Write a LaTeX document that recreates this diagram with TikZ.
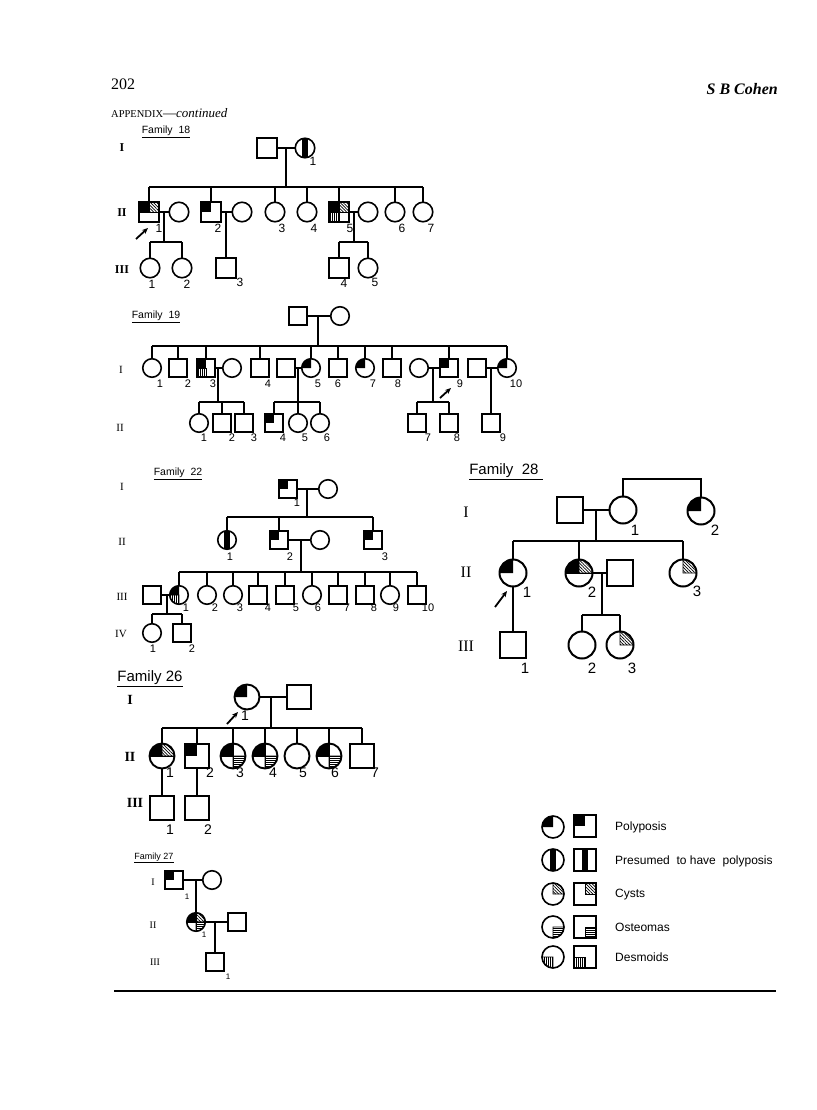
\documentclass[tikz,border=0pt]{standalone}
\usepackage{fontspec}
\setmainfont{Liberation Serif}
\newfontfamily\lsans{Liberation Sans}
\usetikzlibrary{calc,patterns.meta,arrows.meta}
\tikzset{
 sym/.style={draw, line width=1.6pt, outer sep=0pt, inner sep=0pt, fill=white},
 sqA/.style={sym, rectangle, minimum size=20pt},
 ciA/.style={sym, circle, minimum size=19.5pt},
 sqS/.style={sym, rectangle, minimum size=18pt},
 ciS/.style={sym, circle, minimum size=18.5pt},
 sqB/.style={sym, rectangle, minimum size=26pt, line width=2pt},
 ciB/.style={sym, circle, minimum size=27pt, line width=2pt},
 sqC/.style={sym, rectangle, minimum size=24pt, line width=2pt},
 ciC/.style={sym, circle, minimum size=25pt, line width=1.9pt},
 sqL/.style={sym, rectangle, minimum size=22pt, line width=1.6pt},
 ciL/.style={sym, circle, minimum size=22pt, line width=1.6pt},
 ln/.style={line width=1.9pt},
 lnB/.style={line width=2.3pt},
 thinl/.style={line width=0.9pt},
 hatchD/.style={pattern={Lines[angle=-45,distance=2.2pt,line width=0.7pt]}, line width=0.8pt},
 hatchH/.style={pattern={Lines[angle=0,distance=2pt,line width=0.6pt]}, line width=0.8pt},
 hatchV/.style={pattern={Lines[angle=90,distance=2pt,line width=0.6pt]}, line width=0.8pt},
 arr/.style={line width=1.8pt, -{Stealth[length=6pt,width=5pt]}},
 lblA/.style={font=\lsans\fontsize{12}{12}\selectfont, inner sep=0pt},
 lblS/.style={font=\lsans\fontsize{11}{11}\selectfont, inner sep=0pt},
 lblB/.style={font=\lsans\fontsize{15}{15}\selectfont, inner sep=0pt},
 lblC/.style={font=\lsans\fontsize{14}{14}\selectfont, inner sep=0pt},
 lblD/.style={font=\lsans\fontsize{8}{8}\selectfont, inner sep=0pt},
 genA/.style={font=\fontsize{12}{12}\selectfont\bfseries, inner sep=0pt},
 genS/.style={font=\fontsize{11}{11}\selectfont, inner sep=0pt},
 genB/.style={font=\fontsize{16}{16}\selectfont, inner sep=0pt},
 genC/.style={font=\fontsize{14}{14}\selectfont\bfseries, inner sep=0pt},
 genD/.style={font=\fontsize{10}{10}\selectfont, inner sep=0pt},
 famA/.style={font=\lsans\fontsize{10.5}{10.5}\selectfont, inner sep=0pt},
 famB/.style={font=\lsans\fontsize{15}{15}\selectfont, inner sep=0pt},
 famD/.style={font=\lsans\fontsize{9}{9}\selectfont, inner sep=0pt},
 legt/.style={font=\lsans\fontsize{12}{12}\selectfont, inner sep=0pt, anchor=west},
}
\newcommand\SY[4]{\node[#1] (#2) at (#3,-#4) {};}
\newcommand\LB[5]{\node[#1] (#2) at (#3,-#4) {#5};}
\newcommand\cPoly[2]{\fill (#1.center) -- ++(0,#2) arc[start angle=90,end angle=180,radius=#2] -- cycle;}
\newcommand\cCyst[2]{\draw[hatchD] (#1.center) -- ++(#2,0) arc[start angle=0,end angle=90,radius=#2] -- cycle;}
\newcommand\cOst[2]{\draw[hatchH] (#1.center) -- ++(0,-#2) arc[start angle=270,end angle=360,radius=#2] -- cycle;}
\newcommand\cDes[2]{\draw[hatchV] (#1.center) -- ++(-#2,0) arc[start angle=180,end angle=270,radius=#2] -- cycle;}
\newcommand\cPres[2]{\begin{scope}\clip (#1.center) circle[radius=#2];\fill ($(#1.center)+(-0.28*#2,-#2)$) rectangle ($(#1.center)+(0.28*#2,#2)$);\end{scope}}
\newcommand\sPoly[1]{\fill (#1.north west) rectangle (#1.center);}
\newcommand\sCyst[1]{\draw[hatchD] (#1.north) rectangle (#1.east);}
\newcommand\sOst[1]{\draw[hatchH] (#1.center) rectangle (#1.south east);}
\newcommand\sDes[1]{\draw[hatchV] (#1.west) rectangle (#1.south);}
\newcommand\sPres[2]{\fill ($(#1.north)+(-#2,0)$) rectangle ($(#1.south)+(#2,0)$);}
\newcommand\xcross[1]{\draw[thinl] (#1.north) -- (#1.south) (#1.west) -- (#1.east);}
\newcommand\midl[1]{\draw[thinl] (#1.west) -- (#1.east);}
\begin{document}
\begin{tikzpicture}[x=1pt,y=1pt]
\path[fill=white] (0,0) rectangle (816,-1110);
\useasboundingbox (0,0) rectangle (816,-1110);

% ---------- header ----------
\node[anchor=west, inner sep=0pt, font=\fontsize{16}{16}\selectfont] (pg) at (111,-84) {202};
\node[anchor=east, inner sep=0pt, font=\fontsize{16}{16}\selectfont\bfseries\itshape] (au) at (778,-89) {S B Cohen};
\node[anchor=west, inner sep=0pt] (app) at (111,-113) {{\fontsize{10.5}{10.5}\selectfont APPENDIX}{\fontsize{13}{13}\selectfont ---\itshape continued}};

% ---------- Family 18 ----------
\LB{famA}{f18t}{166}{132}{\underline{Family\ \ 18}}
\LB{genA}{f18g1}{122}{148}{I}
\LB{genA}{f18g2}{122}{213}{II}
\LB{genA}{f18g3}{122}{270}{III}
\SY{sqA}{f18m}{267}{148}
\SY{ciA}{f18f1}{305}{148} \cPres{f18f1}{9.75}
\LB{lblA}{f18f1l}{313}{161}{1}
\coordinate (m18) at (286,-148); \coordinate (s18) at (286,-187);
\draw[ln] (f18m.east) -- (f18f1.west); \draw[ln] (m18) -- (s18);
\SY{sqA}{f18a}{149}{212} \sPoly{f18a} \sCyst{f18a} \midl{f18a}
\SY{ciA}{f18aw}{179}{212}
\SY{sqA}{f18b}{211}{212} \sPoly{f18b}
\SY{ciA}{f18bw}{242}{212}
\SY{ciA}{f18c}{275}{212}
\SY{ciA}{f18d}{307}{212}
\SY{sqA}{f18e}{339}{212} \sPoly{f18e} \sCyst{f18e} \sDes{f18e} \xcross{f18e}
\SY{ciA}{f18ew}{368}{212}
\SY{ciA}{f18f}{395}{212}
\SY{ciA}{f18g}{423}{212}
\LB{lblA}{f18al}{159}{228}{1}
\LB{lblA}{f18bl}{218}{228}{2}
\LB{lblA}{f18cl}{282}{228}{3}
\LB{lblA}{f18dl}{314}{228}{4}
\LB{lblA}{f18el}{350}{228}{5}
\LB{lblA}{f18fl}{402}{228}{6}
\LB{lblA}{f18gl}{431}{228}{7}
\draw[ln] (f18a.north |- s18) -- (f18g.north |- s18);
\foreach \n in {f18a,f18b,f18c,f18d,f18e,f18f,f18g} \draw[ln] (\n.north) -- (\n.north |- s18);
\draw[ln] (f18a.east) -- (f18aw.west);
\draw[ln] (f18b.east) -- (f18bw.west);
\draw[ln] (f18e.east) -- (f18ew.west);
\coordinate (m18a) at (164,-212); \coordinate (s18a) at (164,-242);
\coordinate (m18b) at (226,-212);
\coordinate (m18e) at (354,-212); \coordinate (s18e) at (354,-242);
\SY{ciA}{f18h}{150}{268}
\SY{ciA}{f18i}{182}{268}
\SY{sqA}{f18j}{226}{268}
\SY{sqA}{f18k}{339}{268}
\SY{ciA}{f18l}{368}{268}
\LB{lblA}{f18hl}{152}{284}{1}
\LB{lblA}{f18il}{187}{284}{2}
\LB{lblA}{f18jl}{240}{282}{3}
\LB{lblA}{f18kl}{344}{283}{4}
\LB{lblA}{f18ll}{375}{282}{5}
\draw[ln] (m18a) -- (s18a);
\draw[ln] (f18h.north |- s18a) -- (f18i.north |- s18a);
\foreach \n in {f18h,f18i} \draw[ln] (\n.north) -- (\n.north |- s18a);
\draw[ln] (m18b) -- (f18j.north);
\draw[ln] (m18e) -- (s18e);
\draw[ln] (f18k.north |- s18e) -- (f18l.north |- s18e);
\foreach \n in {f18k,f18l} \draw[ln] (\n.north) -- (\n.north |- s18e);
\coordinate (a18s) at (136,-239); \coordinate (a18e) at (148,-228);
\draw[arr] (a18s) -- (a18e);

% ---------- Family 19 ----------
\LB{famA}{f19t}{156}{317}{\underline{Family\ \ 19}}
\LB{genS}{f19g1}{121}{370}{I}
\LB{genS}{f19g2}{120}{428}{II}
\SY{sqS}{f19p}{298}{316}
\SY{ciS}{f19q}{340}{316}
\coordinate (m19) at (318,-316); \coordinate (s19) at (318,-346);
\draw[ln] (f19p.east) -- (f19q.west); \draw[ln] (m19) -- (s19);
\SY{ciS}{f19a}{152}{368}
\SY{sqS}{f19b}{178}{368}
\SY{sqS}{f19c}{206}{368} \sPoly{f19c} \sDes{f19c}
\SY{ciS}{f19cw}{232}{368}
\SY{sqS}{f19d}{260}{368}
\SY{sqS}{f19ew}{286}{368}
\SY{ciS}{f19e}{311}{368} \cPoly{f19e}{9.25}
\SY{sqS}{f19f}{338}{368}
\SY{ciS}{f19g}{365}{368} \cPoly{f19g}{9.25}
\SY{sqS}{f19h}{392}{368}
\SY{ciS}{f19iw}{419}{368}
\SY{sqS}{f19i}{449}{368} \sPoly{f19i}
\SY{sqS}{f19jw}{477}{368}
\SY{ciS}{f19j}{507}{368} \cPoly{f19j}{9.25}
\LB{lblS}{f19al}{160}{384}{1}
\LB{lblS}{f19bl}{188}{384}{2}
\LB{lblS}{f19cl}{213}{384}{3}
\LB{lblS}{f19dl}{268}{384}{4}
\LB{lblS}{f19el}{318}{384}{5}
\LB{lblS}{f19fl}{338}{384}{6}
\LB{lblS}{f19gl}{373}{384}{7}
\LB{lblS}{f19hl}{398}{384}{8}
\LB{lblS}{f19il}{460}{384}{9}
\LB{lblS}{f19jl}{516}{384}{10}
\draw[ln] (f19a.north |- s19) -- (f19j.north |- s19);
\foreach \n in {f19a,f19b,f19c,f19d,f19e,f19f,f19g,f19h,f19i,f19j} \draw[ln] (\n.north) -- (\n.north |- s19);
\draw[ln] (f19c.east) -- (f19cw.west);
\draw[ln] (f19ew.east) -- (f19e.west);
\draw[ln] (f19iw.east) -- (f19i.west);
\draw[ln] (f19jw.east) -- (f19j.west);
\coordinate (m19c) at (218,-368); \coordinate (s19c) at (218,-402);
\coordinate (m19e) at (298,-368); \coordinate (s19e) at (298,-402);
\coordinate (m19i) at (433,-368); \coordinate (s19i) at (433,-402);
\coordinate (m19j) at (491,-368);
\SY{ciS}{f19k}{199}{423}
\SY{sqS}{f19l}{222}{423}
\SY{sqS}{f19m}{244}{423}
\SY{sqS}{f19n}{274}{423} \sPoly{f19n}
\SY{ciS}{f19o}{298}{423}
\SY{ciS}{f19pp}{320}{423}
\SY{sqS}{f19r}{417}{423}
\SY{sqS}{f19s}{449}{423}
\SY{sqS}{f19u}{491}{423}
\LB{lblS}{f19kl}{204}{438}{1}
\LB{lblS}{f19ll}{232}{438}{2}
\LB{lblS}{f19ml}{254}{438}{3}
\LB{lblS}{f19nl}{283}{438}{4}
\LB{lblS}{f19ol}{305}{438}{5}
\LB{lblS}{f19ppl}{327}{438}{6}
\LB{lblS}{f19rl}{428}{438}{7}
\LB{lblS}{f19sl}{457}{438}{8}
\LB{lblS}{f19ul}{503}{438}{9}
\draw[ln] (m19c) -- (s19c);
\draw[ln] (f19k.north |- s19c) -- (f19m.north |- s19c);
\foreach \n in {f19k,f19l,f19m} \draw[ln] (\n.north) -- (\n.north |- s19c);
\draw[ln] (m19e) -- (s19e);
\draw[ln] (f19n.north |- s19e) -- (f19pp.north |- s19e);
\foreach \n in {f19n,f19o,f19pp} \draw[ln] (\n.north) -- (\n.north |- s19e);
\draw[ln] (m19i) -- (s19i);
\draw[ln] (f19r.north |- s19i) -- (f19s.north |- s19i);
\foreach \n in {f19r,f19s} \draw[ln] (\n.north) -- (\n.north |- s19i);
\draw[ln] (m19j) -- (f19u.north);
\coordinate (a19s) at (440,-398); \coordinate (a19e) at (451,-388);
\draw[arr] (a19s) -- (a19e);

% ---------- Family 22 ----------
\LB{famA}{f22t}{178}{474}{\underline{Family\ \ 22}}
\LB{genS}{f22g1}{122}{487}{I}
\LB{genS}{f22g2}{122}{542}{II}
\LB{genS}{f22g3}{122}{597}{III}
\LB{genS}{f22g4}{121}{634}{IV}
\SY{sqS}{f22a}{288}{489} \sPoly{f22a}
\SY{ciS}{f22aw}{328}{489}
\LB{lblS}{f22al}{297}{503}{1}
\coordinate (m22) at (307,-489); \coordinate (s22) at (307,-517);
\draw[ln] (f22a.east) -- (f22aw.west); \draw[ln] (m22) -- (s22);
\SY{ciS}{f22b}{227}{540} \cPres{f22b}{9.25}
\SY{sqS}{f22c}{279}{540} \sPoly{f22c}
\SY{ciS}{f22cw}{320}{540}
\SY{sqS}{f22d}{373}{540} \sPoly{f22d}
\LB{lblS}{f22bl}{230}{557}{1}
\LB{lblS}{f22cl}{290}{557}{2}
\LB{lblS}{f22dl}{385}{557}{3}
\draw[ln] (f22b.north |- s22) -- (f22d.north |- s22);
\foreach \n in {f22b,f22c,f22d} \draw[ln] (\n.north) -- (\n.north |- s22);
\draw[ln] (f22c.east) -- (f22cw.west);
\coordinate (m22c) at (301,-540); \coordinate (s22c) at (301,-572);
\draw[ln] (m22c) -- (s22c);
\SY{sqS}{f22ew}{152}{595}
\SY{ciS}{f22e}{179}{595} \cPoly{f22e}{9.25} \cDes{f22e}{9.25}
\SY{ciS}{f22f}{207}{595}
\SY{ciS}{f22g}{233}{595}
\SY{sqS}{f22h}{258}{595}
\SY{sqS}{f22i}{285}{595}
\SY{ciS}{f22j}{312}{595}
\SY{sqS}{f22k}{338}{595}
\SY{sqS}{f22l}{365}{595}
\SY{ciS}{f22m}{390}{595}
\SY{sqS}{f22n}{417}{595}
\LB{lblS}{f22el}{186}{608}{1}
\LB{lblS}{f22fl}{215}{608}{2}
\LB{lblS}{f22gl}{240}{608}{3}
\LB{lblS}{f22hl}{268}{608}{4}
\LB{lblS}{f22il}{296}{608}{5}
\LB{lblS}{f22jl}{318}{608}{6}
\LB{lblS}{f22kl}{347}{608}{7}
\LB{lblS}{f22ll}{374}{608}{8}
\LB{lblS}{f22ml}{396}{608}{9}
\LB{lblS}{f22nl}{428}{608}{10}
\draw[ln] (f22e.north |- s22c) -- (f22n.north |- s22c);
\foreach \n in {f22e,f22f,f22g,f22h,f22i,f22j,f22k,f22l,f22m,f22n} \draw[ln] (\n.north) -- (\n.north |- s22c);
\draw[ln] (f22ew.east) -- (f22e.west);
\coordinate (m22e) at (167,-595); \coordinate (s22e) at (167,-614);
\draw[ln] (m22e) -- (s22e);
\SY{ciS}{f22o}{152}{633}
\SY{sqS}{f22p}{182}{633}
\LB{lblS}{f22ol}{153}{649}{1}
\LB{lblS}{f22pl}{192}{649}{2}
\draw[ln] (f22o.north |- s22e) -- (f22p.north |- s22e);
\foreach \n in {f22o,f22p} \draw[ln] (\n.north) -- (\n.north |- s22e);

% ---------- Family 28 ----------
\LB{famB}{f28t}{506}{472}{\underline{Family\ \ 28\ }}
\LB{genB}{f28g1}{466}{512}{I}
\LB{genB}{f28g2}{466}{572}{II}
\LB{genB}{f28g3}{466}{646}{III}
\SY{sqB}{f28a}{570}{510}
\SY{ciB}{f28b}{623}{510}
\SY{ciB}{f28c}{701}{511} \cPoly{f28c}{13.5}
\LB{lblB}{f28bl}{635}{530}{1}
\LB{lblB}{f28cl}{715}{530}{2}
\coordinate (t28) at (662,-479);
\draw[lnB] (f28b.north) -- (f28b.north |- t28) -- (f28c.north |- t28) -- (f28c.north);
\draw[lnB] (f28a.east) -- (f28b.west);
\coordinate (m28) at (596,-510); \coordinate (s28) at (596,-541);
\draw[lnB] (m28) -- (s28);
\SY{ciB}{f28d}{513}{573} \cPoly{f28d}{13.5}
\SY{ciB}{f28e}{579}{573} \cPoly{f28e}{13.5} \cCyst{f28e}{13.5} \midl{f28e}
\SY{sqB}{f28ew}{620}{573}
\SY{ciB}{f28f}{683}{573} \cCyst{f28f}{13.5}
\LB{lblB}{f28dl}{527}{592}{1}
\LB{lblB}{f28el}{592}{592}{2}
\LB{lblB}{f28fl}{697}{591}{3}
\draw[lnB] (f28d.north |- s28) -- (f28f.north |- s28);
\foreach \n in {f28d,f28e,f28f} \draw[lnB] (\n.north) -- (\n.north |- s28);
\draw[lnB] (f28e.east) -- (f28ew.west);
\coordinate (m28e) at (602,-573); \coordinate (s28e) at (602,-615);
\draw[lnB] (m28e) -- (s28e);
\SY{sqB}{f28g}{513}{645}
\SY{ciB}{f28h}{582}{645}
\SY{ciB}{f28i}{620}{645} \cCyst{f28i}{13.5}
\LB{lblB}{f28gl}{525}{668}{1}
\LB{lblB}{f28hl}{592}{668}{2}
\LB{lblB}{f28il}{632}{668}{3}
\draw[lnB] (f28d.south) -- (f28g.north);
\draw[lnB] (f28h.north |- s28e) -- (f28i.north |- s28e);
\foreach \n in {f28h,f28i} \draw[lnB] (\n.north) -- (\n.north |- s28e);
\coordinate (a28s) at (495,-607); \coordinate (a28e) at (507,-591);
\draw[arr] (a28s) -- (a28e);

% ---------- Family 26 ----------
\LB{famB}{f26t}{150}{679}{\underline{Family\ 26}}
\LB{genC}{f26g1}{130}{700}{I}
\LB{genC}{f26g2}{130}{757}{II}
\LB{genC}{f26g3}{135}{803}{III}
\SY{ciC}{f26a}{247}{697} \cPoly{f26a}{12.5}
\SY{sqC}{f26aw}{299}{697}
\LB{lblC}{f26al}{245}{716}{1}
\draw[lnB] (f26a.east) -- (f26aw.west);
\coordinate (m26) at (271,-697); \coordinate (s26) at (271,-728);
\draw[lnB] (m26) -- (s26);
\SY{ciC}{f26b}{162}{756} \cPoly{f26b}{12.5} \cCyst{f26b}{12.5} \midl{f26b}
\SY{sqC}{f26c}{197}{756} \sPoly{f26c}
\SY{ciC}{f26d}{233}{756} \cPoly{f26d}{12.5} \cOst{f26d}{12.5} \xcross{f26d}
\SY{ciC}{f26e}{265}{756} \cPoly{f26e}{12.5} \cOst{f26e}{12.5} \xcross{f26e}
\SY{ciC}{f26f}{297}{756}
\SY{ciC}{f26g}{329}{756} \cPoly{f26g}{12.5} \cOst{f26g}{12.5} \xcross{f26g}
\SY{sqC}{f26h}{362}{756}
\LB{lblC}{f26bl}{170}{773}{1}
\LB{lblC}{f26cl}{210}{773}{2}
\LB{lblC}{f26dl}{240}{773}{3}
\LB{lblC}{f26el}{273}{773}{4}
\LB{lblC}{f26fl}{303}{773}{5}
\LB{lblC}{f26gl}{335}{773}{6}
\LB{lblC}{f26hl}{375}{773}{7}
\draw[lnB] (f26b.north |- s26) -- (f26h.north |- s26);
\foreach \n in {f26b,f26c,f26d,f26e,f26f,f26g,f26h} \draw[lnB] (\n.north) -- (\n.north |- s26);
\SY{sqC}{f26i}{162}{808}
\SY{sqC}{f26j}{197}{808}
\LB{lblC}{f26il}{170}{830}{1}
\LB{lblC}{f26jl}{208}{830}{2}
\draw[lnB] (f26b.south) -- (f26i.north);
\draw[lnB] (f26c.south) -- (f26j.north);
\coordinate (a26s) at (227,-724); \coordinate (a26e) at (238,-712);
\draw[arr] (a26s) -- (a26e);

% ---------- Family 27 ----------
\LB{famD}{f27t}{154}{858}{\underline{Family\ 27}}
\LB{genD}{f27g1}{153}{882}{I}
\LB{genD}{f27g2}{153}{925}{II}
\LB{genD}{f27g3}{155}{962}{III}
\SY{sqS}{f27a}{174}{880} \sPoly{f27a}
\SY{ciS}{f27aw}{212}{880}
\LB{lblD}{f27al}{187}{897}{1}
\draw[ln] (f27a.east) -- (f27aw.west);
\coordinate (m27) at (196,-880);
\SY{ciS}{f27b}{196}{922} \cPoly{f27b}{9.25} \cCyst{f27b}{9.25} \cOst{f27b}{9.25} \xcross{f27b}
\SY{sqS}{f27bw}{237}{922}
\LB{lblD}{f27bl}{204}{935}{1}
\draw[ln] (m27) -- (f27b.north);
\draw[ln] (f27b.east) -- (f27bw.west);
\coordinate (m27b) at (215,-922);
\SY{sqS}{f27c}{215}{962}
\LB{lblD}{f27cl}{228}{977}{1}
\draw[ln] (m27b) -- (f27c.north);

% ---------- Legend ----------
\SY{ciL}{lg1c}{553}{827} \cPoly{lg1c}{11}
\SY{sqL}{lg1s}{585}{826} \sPoly{lg1s}
\node[legt] (lg1t) at (615,-827) {Polyposis};
\SY{ciL}{lg2c}{553}{860} \cPres{lg2c}{11}
\SY{sqL}{lg2s}{585}{860} \sPres{lg2s}{3.3}
\node[legt] (lg2t) at (615,-861) {Presumed \ to have \ polyposis};
\SY{ciL}{lg3c}{553}{894} \cCyst{lg3c}{11}
\SY{sqL}{lg3s}{585}{894} \sCyst{lg3s}
\node[legt] (lg3t) at (615,-895) {Cysts};
\SY{ciL}{lg4c}{553}{927} \cOst{lg4c}{11}
\SY{sqL}{lg4s}{585}{927} \sOst{lg4s}
\node[legt] (lg4t) at (615,-927) {Osteomas};
\SY{ciL}{lg5c}{553}{957} \cDes{lg5c}{11}
\SY{sqL}{lg5s}{585}{957} \sDes{lg5s}
\node[legt] (lg5t) at (615,-957) {Desmoids};

% ---------- rule ----------
\coordinate (rl) at (114,-991); \coordinate (rr) at (776,-991);
\draw[line width=1.6pt] (rl) -- (rr);
\end{tikzpicture}
\end{document}
